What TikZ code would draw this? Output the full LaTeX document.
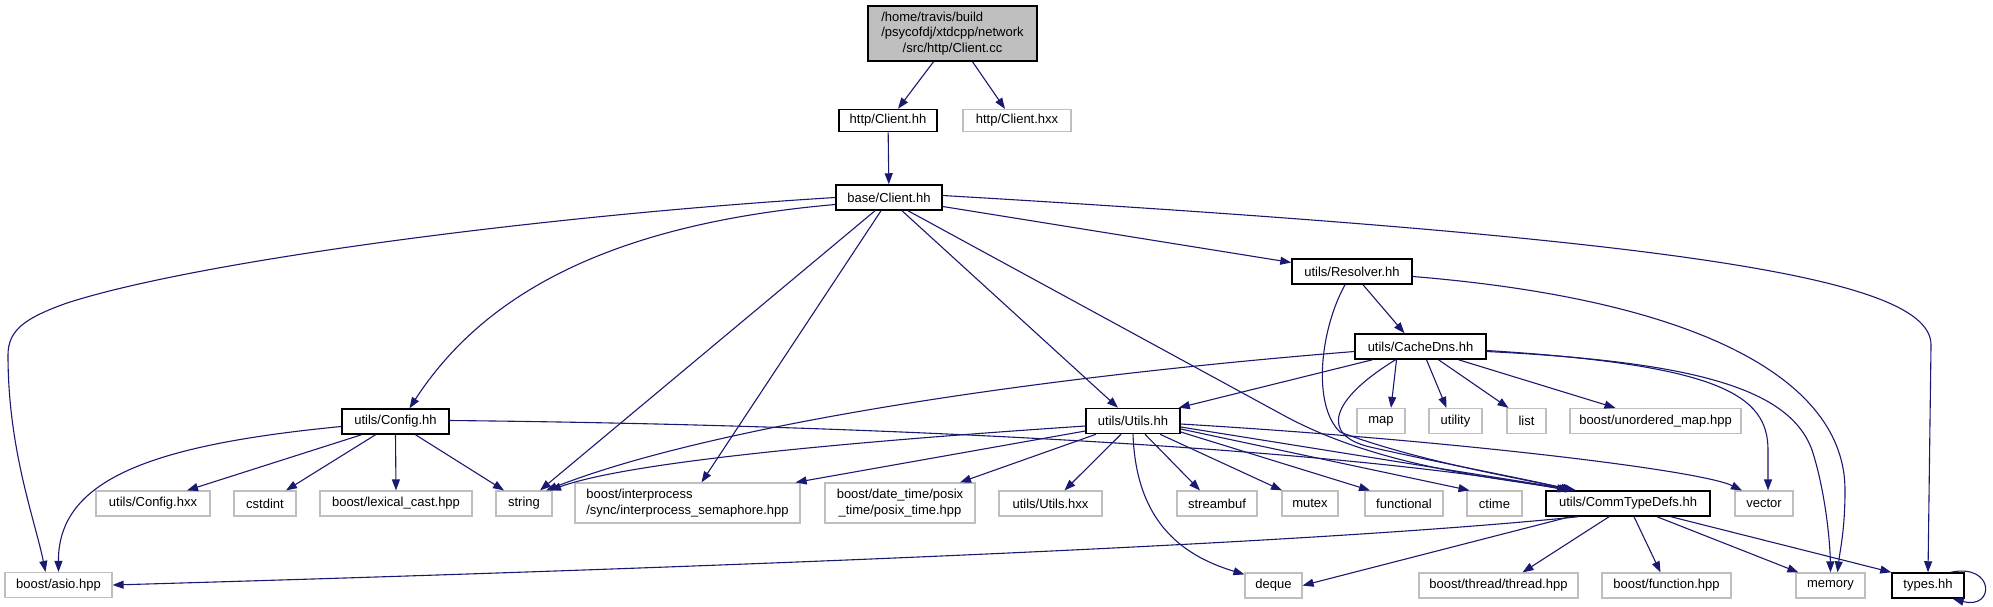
\documentclass[tikz,border=0pt]{standalone}
\usepackage{fontspec}
\setmainfont{Liberation Sans}
\usetikzlibrary{arrows.meta}
\definecolor{edgecol}{HTML}{191970}
\definecolor{graybd}{HTML}{BFBFBF}
\definecolor{rootfill}{HTML}{BFBFBF}
\begin{document}
\begin{tikzpicture}[x=1pt,y=-1pt,
  every node/.style={font=\fontsize{13}{15.5}\selectfont, inner sep=0pt, minimum height=25pt, fill=white},
  gnode/.style={draw=graybd, line width=1.2pt},
  bnode/.style={draw=black, line width=1.5pt},
  edge/.style={draw=edgecol, line width=1.1pt, -{Triangle[length=11pt,width=8pt]}}]
\useasboundingbox (0,0) rectangle (1993,606);
% nodes
\node[bnode, fill=rootfill, minimum width=169pt, minimum height=55pt, align=center] (root) at (952.5,33.5)
  {\rlap{/home/travis/build}\phantom{/psycofdj/xtdcpp/network}\\/psycofdj/xtdcpp/network\\/src/http/Client.cc};
\node[bnode, minimum width=98pt, minimum height=22pt] (hcc) at (888,120.5) {http/Client.hh};
\node[gnode, minimum width=108pt, minimum height=22pt] (hxx) at (1017,120.5) {http/Client.hxx};
\node[bnode, minimum width=106pt] (base) at (889,197.5) {base/Client.hh};
\node[bnode, minimum width=120pt] (res) at (1352,271.5) {utils/Resolver.hh};
\node[bnode, minimum width=131pt] (cd) at (1420.5,346.5) {utils/CacheDns.hh};
\node[bnode, minimum width=107pt] (cfg) at (395.5,421.5) {utils/Config.hh};
\node[bnode, minimum width=94pt] (utl) at (1133,421) {utils/Utils.hh};
\node[gnode, minimum width=48pt] (map) at (1381,421) {map};
\node[gnode, minimum width=53pt] (uty) at (1455.5,421) {utility};
\node[gnode, minimum width=39pt] (lst) at (1526.5,421) {list};
\node[gnode, minimum width=171pt] (umap) at (1655.5,421) {boost/unordered\_map.hpp};
\node[gnode, minimum width=114pt] (cfx) at (153,503.5) {utils/Config.hxx};
\node[gnode, minimum width=62pt] (cst) at (265,503.5) {cstdint};
\node[gnode, minimum width=152pt] (lex) at (396,503.5) {boost/lexical\_cast.hpp};
\node[gnode, minimum width=56pt] (str) at (524,503.5) {string};
\node[gnode, minimum width=225pt, minimum height=40pt, align=left] (ipc) at (687.5,503)
  {boost/interprocess\\/sync/interprocess\_semaphore.hpp};
\node[gnode, minimum width=150pt, minimum height=40pt, align=center] (psx) at (900,503)
  {boost/date\_time/posix\\\_time/posix\_time.hpp};
\node[gnode, minimum width=103pt] (uhx) at (1050.5,503.5) {utils/Utils.hxx};
\node[gnode, minimum width=80pt] (stb) at (1217,503.5) {streambuf};
\node[gnode, minimum width=56pt] (mtx) at (1310,503.5) {mutex};
\node[gnode, minimum width=78pt] (fnc) at (1404,503.5) {functional};
\node[gnode, minimum width=55pt] (ctm) at (1494.5,503.5) {ctime};
\node[bnode, minimum width=164pt] (ctd) at (1628,503.5) {utils/CommTypeDefs.hh};
\node[gnode, minimum width=58pt] (vec) at (1764,503.5) {vector};
\node[gnode, minimum width=107pt] (asio) at (58.5,585) {boost/asio.hpp};
\node[gnode, minimum width=57pt] (dq) at (1273.5,585.5) {deque};
\node[gnode, minimum width=159pt] (thr) at (1498.5,585.5) {boost/thread/thread.hpp};
\node[gnode, minimum width=129pt] (fun) at (1666.5,585.5) {boost/function.hpp};
\node[gnode, minimum width=69pt] (mem) at (1830.5,585.5) {memory};
\node[bnode, minimum width=72pt] (typ) at (1928,585.5) {types.hh};
% edges: root
\draw[edge] ([xshift=-19pt]root.south) -- ([xshift=10pt]hcc.north);
\draw[edge] ([xshift=20pt]root.south) -- ([xshift=-12pt]hxx.north);
\draw[edge] (hcc) -- (base);
% base/Client.hh
\draw[edge] (base.west) .. controls (550,215) and (200,260) .. (67,303)
  .. controls (25,318) and (8,330) .. (8,355) .. controls (8,450) and (35,520) .. ([xshift=-13pt]asio.north);
\draw[edge] ([yshift=-7pt]base.west) .. controls (600,225) and (480,300) .. ([xshift=14pt]cfg.north);
\draw[edge] ([xshift=-14pt]base.south) -- ([xshift=16pt]str.north);
\draw[edge] ([xshift=-8pt]base.south) -- ([xshift=14pt]ipc.north);
\draw[edge] ([xshift=13pt]base.south) -- ([xshift=-15pt]utl.north);
\draw[edge] ([xshift=19pt]base.south) -- (1283,415) .. controls (1380,468) and (1500,478) .. ([xshift=-58pt]ctd.north);
\draw[edge] ([yshift=-9pt]base.east) -- ([yshift=9pt]res.west);
\draw[edge] ([yshift=2pt]base.east) .. controls (1700,240) and (1931,280) .. (1931,345) -- (typ.north);
% Resolver
\draw[edge] ([xshift=11pt]res.south) -- ([xshift=-16pt]cd.north);
\draw[edge] ([xshift=-7pt]res.south) .. controls (1320,330) and (1312,405) .. (1340,432)
  .. controls (1420,462) and (1520,478) .. ([xshift=-56pt]ctd.north);
\draw[edge] ([yshift=-5pt]res.east) .. controls (1700,300) and (1845,380) .. (1845,490)
  .. controls (1845,530) and (1840,550) .. ([xshift=7pt]mem.north);
% CacheDns
\draw[edge] ([yshift=-5pt]cd.west) .. controls (1000,380) and (700,430) .. ([xshift=22pt]str.north);
\draw[edge] ([xshift=-48pt]cd.south) -- ([xshift=-2pt]utl.north east);
\draw[edge] ([xshift=-24pt]cd.south) -- ([xshift=10pt]map.north);
\draw[edge] ([xshift=6pt]cd.south) -- ([xshift=-9pt]uty.north);
\draw[edge] ([xshift=18pt]cd.south) -- ([xshift=-18pt]lst.north);
\draw[edge] ([xshift=38pt]cd.south) -- ([xshift=-40pt]umap.north);
\draw[edge] ([xshift=-25pt]cd.south) .. controls (1330,400) and (1320,435) .. (1370,447)
  .. controls (1450,465) and (1520,478) .. ([xshift=-54pt]ctd.north);
\draw[edge] ([yshift=-4pt]cd.east) .. controls (1720,365) and (1768,395) .. (1768,450) -- ([xshift=4pt]vec.north);
\draw[edge] ([yshift=-5pt]cd.east) .. controls (1700,362) and (1790,390) .. (1812,450)
  .. controls (1825,490) and (1830,540) .. (mem.north);
% Config
\draw[edge] ([xshift=-34pt]cfg.south) -- ([xshift=34pt]cfx.north);
\draw[edge] ([xshift=-20pt]cfg.south) -- ([xshift=21pt]cst.north);
\draw[edge] (cfg.south) -- (lex.north);
\draw[edge] ([xshift=20pt]cfg.south) -- ([xshift=-20pt]str.north);
\draw[edge] ([yshift=-5pt]cfg.west) .. controls (150,445) and (58,480) .. (asio.north);
\draw[edge] ([yshift=1pt]cfg.east) .. controls (900,425) and (1350,450) .. ([xshift=-60pt]ctd.north);
% Utils
\draw[edge] ([yshift=-5pt]utl.west) .. controls (800,445) and (620,465) .. ([xshift=26pt]str.north);
\draw[edge] ([yshift=-10pt]utl.west) -- ([xshift=-5pt]ipc.north east);
\draw[edge] ([xshift=-37pt]utl.south) -- ([xshift=60pt]psx.north);
\draw[edge] ([xshift=-12pt]utl.south) -- ([xshift=14pt]uhx.north);
\draw[edge] (utl.south) .. controls (1136,520) and (1180,555) .. ([yshift=-2pt]dq.north west);
\draw[edge] ([xshift=12pt]utl.south) -- ([xshift=-17pt]stb.north);
\draw[edge] ([xshift=27pt]utl.south) -- ([xshift=-28pt]mtx.north);
\draw[edge] ([yshift=-11pt]utl.east) -- ([xshift=-34pt]fnc.north);
\draw[edge] ([yshift=-8pt]utl.east) -- ([xshift=-25pt]ctm.north);
\draw[edge] ([yshift=-6pt]utl.east) -- ([xshift=-52pt]ctd.north);
\draw[edge] ([yshift=-3pt]utl.east) .. controls (1450,440) and (1700,470) .. ([xshift=-22pt]vec.north);
% CommTypeDefs
\draw[edge] ([xshift=-50pt]ctd.south) .. controls (1300,545) and (700,568) .. (asio.east);
\draw[edge] ([xshift=-58pt]ctd.south) -- (dq.east);
\draw[edge] ([xshift=-19pt]ctd.south) -- ([xshift=24pt]thr.north);
\draw[edge] ([xshift=6pt]ctd.south) -- ([xshift=-6pt]fun.north);
\draw[edge] ([xshift=29pt]ctd.south) -- ([xshift=3pt]mem.north west);
\draw[edge] ([xshift=43pt]ctd.south) -- (typ.north west);
% self loop
\draw[edge] ([xshift=-14pt]typ.north east) .. controls (1995,563) and (1995,610) .. ([xshift=-12pt]typ.south east);
\end{tikzpicture}
\end{document}
